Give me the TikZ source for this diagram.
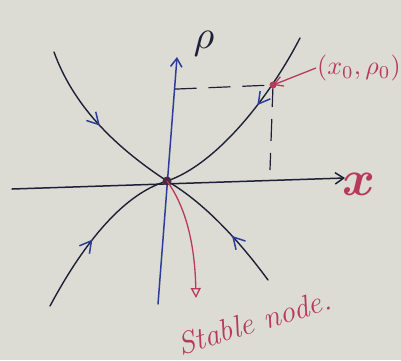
\documentclass[tikz,border=0pt]{standalone}
\usepackage{amsmath,amssymb}
\usepackage{xcolor,tikz}
\usetikzlibrary{arrows.meta,decorations.markings,calc}
\definecolor{paper}{HTML}{DCDCD4}
\definecolor{ink}{HTML}{1E2038}
\definecolor{blueink}{HTML}{2C3C98}
\definecolor{redink}{HTML}{B83A5A}
\tikzset{
  traj/.style={ink,line width=1.4pt,line cap=round,postaction={decorate},
    decoration={markings,mark=at position #1 with {\arrow[blueink,line width=1.5pt]{Straight Barb[length=4mm,width=4.5mm]}}}},
  axis/.style={line width=1.5pt,line cap=round,-{Straight Barb[length=3mm,width=4mm]}},
  guide/.style={ink,line width=1.2pt,dash pattern=on 22pt off 12pt}
}
\begin{document}
\begin{tikzpicture}[x=1pt,y=-1pt]
\fill[paper] (0,0) rectangle (401,360);
\useasboundingbox (0,0) rectangle (401,360);
% named points
\coordinate (O) at (167,181);
\coordinate (P0) at (273,85);
\coordinate (xl) at (12,189);\coordinate (xr) at (345,178);
\coordinate (yb) at (158,304);\coordinate (yt) at (177,57);
% axes
\draw[axis,ink] (xl)--(xr);
\draw[axis,blueink] (yb)--(yt);
\node[ink] (rholab) at (204,44){\scalebox{4}{$\rho$}};
\node[redink] (xlab) at (359,184){\scalebox{5}{$\boldsymbol{x}$}};
% trajectories into the node
\draw[traj=0.5] (54,52) .. controls (75,110) and (120,150) .. (O);
\draw[traj=0.4] (300,38) .. controls (268,100) and (215,165) .. (O);
\draw[traj=0.45] (50,306) .. controls (80,250) and (120,195) .. (O);
\draw[traj=0.4] (268,280) .. controls (235,235) and (200,200) .. (O);
% initial point
\draw[guide] ($(yt)!0.13!(yb)$) -- (P0);
\draw[guide] (P0) -- (270,170);
\fill[redink] (P0) circle (3.5pt);
\fill[ink!70!redink] (O) circle (4.5pt);
\node[redink,anchor=west,inner sep=1pt] (p0lab) at (316,68){\scalebox{2.6}{$(x_0,\rho_0)$}};
\draw[redink,line width=1.3pt,-{Straight Barb[length=3mm,width=3.5mm]}] (p0lab.west) -- (P0);
% label of the node
\coordinate (tip) at (196,298);
\draw[redink,line width=1.3pt,-{Triangle[open,length=3.5mm,width=3.5mm]}] (O) .. controls (188,210) and (195,250) .. (tip);
\node[redink,rotate=17] (stable) at (254,322){\fontsize{31}{31}\selectfont\itshape Stable node.};
\end{tikzpicture}
\end{document}
